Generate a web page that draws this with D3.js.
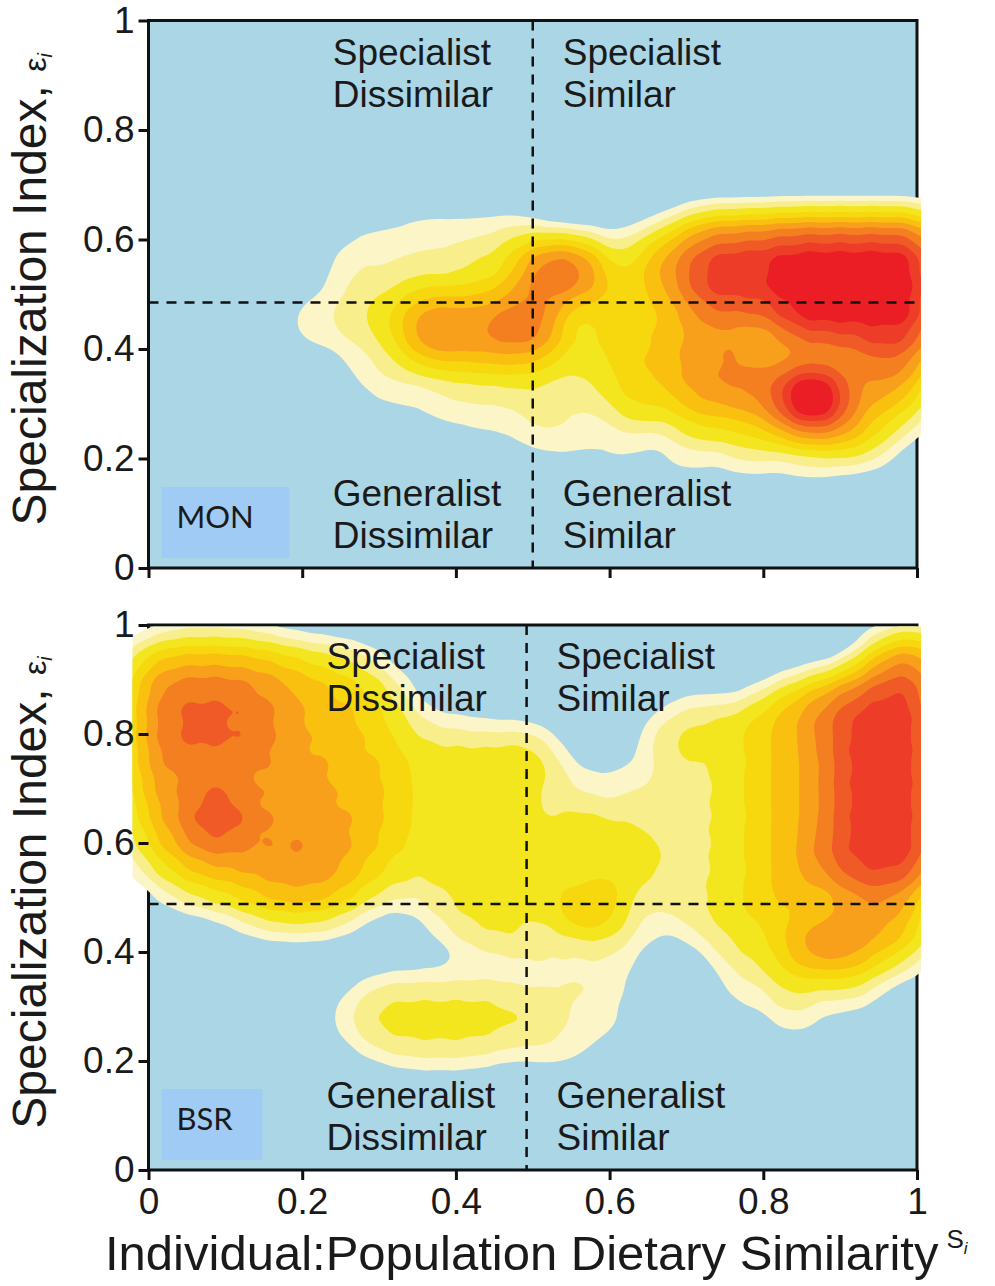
<!DOCTYPE html>
<html>
<head>
<meta charset="utf-8">
<script src="https://cdn.jsdelivr.net/npm/d3@7"></script>
<style>
  body { margin: 0; background: #fff; }
  text { font-family: "Liberation Sans", Arial, sans-serif; fill: #1a1a1a; }
</style>
</head>
<body>
<svg id="chart"></svg>
<script>
// tick values shared by both panels
const xTicks = [0, 0.2, 0.4, 0.6, 0.8, 1];
const yTicks = [0, 0.2, 0.4, 0.6, 0.8, 1];
const tickLabels = ["0", "0.2", "0.4", "0.6", "0.8", "1"];

// quadrant labels
const quadLabels = [
  {y: 1, side: "left", lines: ["Specialist", "Dissimilar"]},
  {y: 1, side: "right", lines: ["Specialist", "Similar"]},
  {y: 0, side: "left", lines: ["Generalist", "Dissimilar"]},
  {y: 0, side: "right", lines: ["Generalist", "Similar"]}
];

// divider positions (s_i, eps_i) for each panel
const monCut = [0.5, 0.485];
const bsrCut = [0.492, 0.488];

const monPoints = [
  // red plateau, right
  [0.84,0.44,3.3],[0.88,0.44,3.3],[0.92,0.44,3.3],[0.96,0.44,3.3],[1.0,0.44,3.3],
  [0.84,0.49,3.3],[0.88,0.49,3.3],[0.92,0.49,3.3],[0.96,0.49,3.3],[1.0,0.49,3.3],
  [0.84,0.54,3.3],[0.88,0.54,3.3],[0.92,0.54,3.3],[0.96,0.54,3.3],[1.0,0.54,3.3],
  [0.84,0.59,3.3],[0.88,0.59,3.3],[0.92,0.59,3.3],[0.96,0.59,3.3],[1.0,0.59,3.3],
  [0.72,0.49,2.8],[0.76,0.49,2.8],[0.8,0.49,2.8],[0.72,0.54,2.8],[0.76,0.54,2.8],[0.8,0.54,2.8],
  [0.72,0.59,2.5],[0.76,0.59,2.6],[0.8,0.59,2.8],[0.67,0.52,1.6],[0.67,0.57,1.6],
  // lower red blob and its ring
  [0.865,0.31,9],[0.83,0.3,2.2],[0.9,0.28,2],[0.84,0.36,2],[0.9,0.36,2.2],[0.8,0.33,1.5],[0.93,0.32,1.5],
  [0.95,0.38,2.5],[0.99,0.38,2],[0.97,0.33,1.2],[0.99,0.3,0.6],
  // orange / amber, lower middle
  [0.7,0.32,1.4],[0.74,0.32,1.4],[0.78,0.32,1.5],[0.7,0.37,1.4],[0.74,0.37,1.5],[0.78,0.37,1.5],
  [0.7,0.42,1.4],[0.74,0.42,1.5],[0.78,0.42,1.5],
  [0.64,0.3,1.1],[0.64,0.35,1.1],[0.64,0.4,1.1],[0.66,0.45,1.1],
  [0.72,0.27,0.9],[0.78,0.26,1],[0.84,0.25,1],[0.9,0.24,0.8],[0.95,0.26,0.8],
  [0.62,0.22,0.3],[0.7,0.21,0.35],[0.78,0.21,0.4],[0.86,0.21,0.4],[0.93,0.22,0.3],
  // yellow valley near the divider
  [0.58,0.32,0.6],[0.58,0.38,0.6],[0.58,0.44,0.7],[0.6,0.48,0.9],[0.52,0.26,0.25],[0.56,0.24,0.3],
  [0.52,0.33,0.45],[0.53,0.4,0.5],[0.51,0.45,0.7],[0.62,0.56,0.6],[0.62,0.5,0.6],[0.6,0.41,0.4],
  // orange blob on the divider
  [0.52,0.54,3.5],[0.56,0.54,3.5],
  // orange blob, left
  [0.36,0.435,2.2],[0.4,0.435,2.2],[0.44,0.435,2.2],[0.48,0.44,2.2],[0.51,0.45,1.5],
  [0.38,0.39,1],[0.45,0.39,1],[0.38,0.48,1],[0.45,0.49,1.1],[0.5,0.4,1],[0.5,0.49,1.2],
  // yellow and cream tail, left
  [0.32,0.47,0.8],[0.28,0.45,0.6],[0.33,0.4,0.5],[0.35,0.52,0.6],[0.42,0.53,0.7],[0.48,0.55,0.8],
  [0.42,0.35,0.5],[0.48,0.34,0.5],[0.23,0.45,0.35],[0.2,0.45,0.2],[0.27,0.51,0.25],
  [0.3,0.58,0.4],[0.36,0.6,0.45],[0.42,0.6,0.45],[0.48,0.6,0.5],[0.26,0.55,0.3],
  [0.32,0.33,0.35],[0.38,0.3,0.35],[0.44,0.28,0.35],[0.5,0.26,0.3],[0.28,0.37,0.3]
];

const bsrPoints = [
  // red column, right
  [0.92,0.56,3.3],[0.96,0.56,3.3],[1.0,0.56,3.3],[0.92,0.62,3.3],[0.96,0.62,3.3],[1.0,0.62,3.3],
  [0.92,0.68,3.3],[0.96,0.68,3.3],[1.0,0.68,3.3],[0.92,0.74,3.3],[0.96,0.74,3.3],[1.0,0.74,3.3],
  [0.92,0.8,3.3],[0.96,0.8,3.3],[1.0,0.8,3.3],[0.92,0.86,3.0],[0.96,0.86,3.3],[1.0,0.86,3.3],
  [0.96,0.92,2],[1.0,0.92,2.3],[1.0,0.95,0.6],
  [0.88,0.55,2.2],[0.88,0.62,2.2],[0.88,0.7,2.2],[0.88,0.78,2.2],[0.88,0.85,2.2],
  [0.84,0.52,1.6],[0.84,0.6,1.6],[0.84,0.68,1.6],[0.84,0.76,1.6],[0.84,0.84,1.6],
  [0.8,0.5,1.1],[0.8,0.58,1.1],[0.8,0.66,1.1],[0.8,0.74,1.1],[0.8,0.82,1.1],
  [0.76,0.5,0.8],[0.76,0.6,0.8],[0.76,0.7,0.8],[0.76,0.8,0.8],
  [0.72,0.55,0.6],[0.72,0.65,0.6],[0.72,0.75,0.55],[0.72,0.82,0.5],
  [0.68,0.5,0.5],[0.68,0.6,0.5],[0.68,0.7,0.45],[0.68,0.78,0.4],
  // orange blob, lower right
  [0.86,0.41,2.5],[0.91,0.41,2.5],[0.89,0.46,1.5],[0.95,0.44,1.5],[0.99,0.45,1.2],[0.97,0.5,1.5],[0.93,0.5,1.8],
  [0.82,0.44,1],[0.79,0.38,0.6],[0.84,0.34,0.8],[0.91,0.34,0.7],[0.97,0.39,0.6],[0.76,0.42,0.6],
  [0.76,0.3,0.25],[0.84,0.28,0.3],[0.72,0.46,0.5],
  // yellow band through the middle
  [0.64,0.56,0.8],[0.64,0.65,0.6],[0.6,0.6,0.75],[0.56,0.64,0.6],[0.52,0.6,0.7],[0.52,0.54,0.6],[0.6,0.53,0.7],
  [0.56,0.7,0.3],[0.62,0.71,0.3],[0.52,0.72,0.4],[0.5,0.77,0.3],[0.57,0.6,0.5],
  [0.555,0.48,1.5],[0.59,0.48,1.2],
  [0.67,0.79,0.3],[0.7,0.83,0.15],
  // cream patch below the divider
  [0.52,0.4,0.35],[0.56,0.36,0.35],[0.6,0.41,0.35],[0.53,0.3,0.3],[0.58,0.3,0.3],[0.52,0.23,0.25],
  [0.57,0.22,0.2],[0.62,0.25,0.15],[0.64,0.45,0.3],[0.61,0.35,0.2],
  // generalist-dissimilar blob
  [0.3,0.25,0.5],[0.34,0.24,0.55],[0.38,0.24,0.55],[0.42,0.24,0.55],[0.46,0.25,0.5],
  [0.3,0.31,0.5],[0.34,0.31,0.55],[0.38,0.31,0.55],[0.42,0.31,0.55],[0.46,0.31,0.5],
  [0.5,0.3,0.35],[0.26,0.28,0.3],[0.51,0.25,0.25],
  // left cluster, row by row from the top
  [0.035,0.97,0.2],[0.07,0.97,0.2],[0.105,0.97,0.2],[0.14,0.97,0.15],
  [0.0,0.92,1.0],[0.035,0.92,1.1],[0.07,0.92,1.1],[0.105,0.92,1.1],[0.14,0.92,1.05],[0.175,0.92,0.9],
  [0.21,0.92,0.65],[0.245,0.92,0.5],[0.28,0.92,0.33],
  [0.0,0.87,1.15],[0.035,0.87,1.75],[0.07,0.87,1.75],[0.105,0.87,1.75],[0.14,0.87,1.45],[0.175,0.87,1.05],
  [0.21,0.87,0.85],[0.245,0.87,0.72],[0.28,0.87,0.56],[0.315,0.87,0.4],
  [0.0,0.82,1.15],[0.035,0.82,1.75],[0.07,0.82,1.75],[0.105,0.82,1.75],[0.14,0.82,1.6],[0.175,0.82,1.1],
  [0.21,0.82,0.88],[0.245,0.82,0.8],[0.28,0.82,0.64],[0.315,0.82,0.48],
  [0.0,0.77,1.15],[0.035,0.77,1.75],[0.07,0.77,1.75],[0.105,0.77,1.75],[0.14,0.77,1.45],[0.175,0.77,1.1],
  [0.21,0.77,0.96],[0.245,0.77,0.84],[0.28,0.77,0.72],[0.315,0.77,0.56],
  [0.0,0.72,1.05],[0.035,0.72,1.15],[0.07,0.72,1.15],[0.105,0.72,1.15],[0.14,0.72,1.15],[0.175,0.72,1.1],
  [0.21,0.72,1.05],[0.245,0.72,0.88],[0.28,0.72,0.8],[0.315,0.72,0.64],
  [0.0,0.67,0.9],[0.035,0.67,1.05],[0.07,0.67,2.2],[0.105,0.67,2.2],[0.14,0.67,1.15],[0.175,0.67,1.1],
  [0.21,0.67,1.05],[0.245,0.67,0.96],[0.28,0.67,0.84],[0.315,0.67,0.64],
  [0.0,0.62,0.65],[0.035,0.62,0.95],[0.07,0.62,2.2],[0.105,0.62,2.2],[0.14,0.62,1.1],[0.175,0.62,1.3],
  [0.21,0.62,1.3],[0.245,0.62,1.1],[0.28,0.62,0.8],[0.315,0.62,0.6],
  [0.0,0.57,0.32],[0.035,0.57,0.65],[0.07,0.57,0.9],[0.105,0.57,0.95],[0.14,0.57,1.1],[0.175,0.57,1.3],
  [0.21,0.57,1.3],[0.245,0.57,1.15],[0.28,0.57,0.72],[0.315,0.57,0.48],
  [0.035,0.52,0.25],[0.07,0.52,0.48],[0.105,0.52,0.65],[0.14,0.52,0.8],[0.175,0.52,1.1],[0.21,0.52,1.1],
  [0.245,0.52,0.9],[0.28,0.52,0.48],[0.315,0.52,0.28],
  [0.14,0.47,0.3],[0.175,0.47,0.38],[0.21,0.47,0.38],[0.245,0.47,0.3],
  // yellow field up to the divider
  [0.35,0.8,0.25],[0.385,0.8,0.25],[0.42,0.79,0.22],[0.455,0.78,0.2],[0.49,0.77,0.2],
  [0.35,0.75,0.38],[0.385,0.75,0.38],[0.42,0.75,0.38],[0.455,0.75,0.35],[0.49,0.75,0.3],
  [0.35,0.7,0.38],[0.385,0.7,0.38],[0.42,0.7,0.38],[0.455,0.7,0.38],[0.49,0.7,0.35],
  [0.35,0.65,0.38],[0.385,0.65,0.38],[0.42,0.65,0.38],[0.455,0.65,0.38],[0.49,0.65,0.38],
  [0.35,0.6,0.38],[0.385,0.6,0.38],[0.42,0.6,0.38],[0.455,0.6,0.38],[0.49,0.6,0.38],
  [0.35,0.55,0.3],[0.385,0.55,0.38],[0.42,0.55,0.38],[0.455,0.55,0.38],[0.49,0.55,0.38],
  [0.35,0.5,0.12],[0.385,0.5,0.3],[0.42,0.5,0.38],[0.455,0.5,0.38],[0.49,0.5,0.38],
  [0.385,0.45,0.2],[0.42,0.45,0.3],[0.455,0.45,0.35],[0.49,0.45,0.35],
  [0.42,0.41,0.15],[0.455,0.41,0.2],[0.49,0.41,0.2]
];

// contour levels, in point-weight units, and their fills
const levels = [0.3, 0.6, 1.0, 1.6, 2.3, 3.2, 4.3, 5.6, 7.0, 8.4];
const levelColors = ["#fcf5c8", "#f8ee8c", "#f4e61e", "#f7d80f", "#f9c00f", "#f8a01c", "#f47f20", "#f05a27", "#ed3c27", "#eb1d25"];

const panels = [
  {name: "MON", points: monPoints, cut: monCut, top: 20.5, bottom: 568, tagW: 128, showX: false},
  {name: "BSR", points: bsrPoints, cut: bsrCut, top: 625, bottom: 1170, tagW: 101, showX: true}
];

const W = 995, H = 1286;
const left = 148.5, right = 917;
const pw = right - left;
const bw = 20;

const svg = d3.select("#chart").attr("width", W).attr("height", H);
const defs = svg.append("defs");

const x = d3.scaleLinear().domain([0, 1]).range([0, pw]);

panels.forEach((p, i) => {
  const ph = p.bottom - p.top;
  const y = d3.scaleLinear().domain([0, 1]).range([ph, 0]);
  const g = svg.append("g").attr("transform", `translate(${left},${p.top})`);

  // background + frame
  g.append("rect")
    .attr("width", pw).attr("height", ph)
    .attr("fill", "#aad6e6")
    .attr("stroke", "#111").attr("stroke-width", 3);

  // fills spill a bit over the frame in the original
  defs.append("clipPath").attr("id", "clip" + i)
    .append("rect").attr("x", -16).attr("y", 1.5).attr("width", pw + 20).attr("height", ph - 3);

  const density = d3.contourDensity()
    .x(d => x(d[0]))
    .y(d => y(d[1]))
    .weight(d => d[2])
    .size([pw, ph])
    .cellSize(2)
    .bandwidth(bw);

  const contour = density.contours(p.points);
  const unit = 1 / (2 * Math.PI * bw * bw);

  g.append("g").attr("clip-path", `url(#clip${i})`)
    .selectAll("path")
    .data(levels)
    .join("path")
    .attr("d", l => d3.geoPath()(contour(l * unit)))
    .attr("fill", (l, j) => levelColors[j]);

  // dashed dividers
  g.append("line")
    .attr("x1", x(p.cut[0])).attr("x2", x(p.cut[0]))
    .attr("y1", 0).attr("y2", ph)
    .attr("stroke", "#111").attr("stroke-width", 2.5).attr("stroke-dasharray", "10,8");
  g.append("line")
    .attr("x1", 0).attr("x2", pw + 3)
    .attr("y1", y(p.cut[1])).attr("y2", y(p.cut[1]))
    .attr("stroke", "#111").attr("stroke-width", 2.5).attr("stroke-dasharray", "10,8");

  // axes
  const yAxis = d3.axisLeft(y).tickValues(yTicks).tickSize(10).tickPadding(4)
    .tickFormat((d, k) => tickLabels[k]);
  const yG = g.append("g").call(yAxis);
  yG.select(".domain").remove();
  yG.selectAll("line").attr("stroke", "#111").attr("stroke-width", 3);
  yG.selectAll("text").attr("font-size", 37).attr("font-family", "Liberation Sans, Arial, sans-serif").attr("fill", "#1a1a1a");

  const xAxis = d3.axisBottom(x).tickValues(xTicks).tickSize(10).tickPadding(8)
    .tickFormat((d, k) => p.showX ? tickLabels[k] : "");
  const xG = g.append("g").attr("transform", `translate(0,${ph})`).call(xAxis);
  xG.select(".domain").remove();
  xG.selectAll("line").attr("stroke", "#111").attr("stroke-width", 3);
  xG.selectAll("text").attr("font-size", 37).attr("font-family", "Liberation Sans, Arial, sans-serif").attr("fill", "#1a1a1a");

  // quadrant labels
  quadLabels.forEach(q => {
    const tx = q.side === "left" ? x(p.cut[0]) - 200 : x(p.cut[0]) + 30;
    const ty = q.y === 1 ? 44 : ph - 62;
    const t = g.append("text").attr("font-size", 37);
    q.lines.forEach((s, k) => {
      t.append("tspan").attr("x", tx).attr("y", ty + k * 42).text(s);
    });
  });

  // panel tag
  g.append("rect").attr("x", 13).attr("y", ph - 81).attr("width", p.tagW).attr("height", 71)
    .attr("fill", "#9fcbf4");
  g.append("text").attr("x", 28).attr("y", ph - 40)
    .attr("font-size", 31).style("font-family", "Lato, 'Open Sans', sans-serif").attr("fill", "#1b2540")
    .text(p.name);

  // y title
  const yt = svg.append("text")
    .attr("transform", `translate(46,${(p.top + p.bottom) / 2 - 5}) rotate(-90)`)
    .attr("text-anchor", "middle").attr("font-size", 48);
  yt.append("tspan").text("Specialization Index, ");
  yt.append("tspan").attr("font-size", 32).text("ε");
  yt.append("tspan").attr("font-size", 20).attr("font-style", "italic").attr("dy", 6).text("i");
});

// x title
const xt = svg.append("text").attr("x", 105).attr("y", 1270).attr("font-size", 49);
xt.append("tspan").text("Individual:Population Dietary Similarity");
xt.append("tspan").attr("font-size", 26).attr("dx", 8).attr("dy", -22).text("S");
xt.append("tspan").attr("font-size", 17).attr("font-style", "italic").attr("dy", 6).text("i");
</script>
</body>
</html>
